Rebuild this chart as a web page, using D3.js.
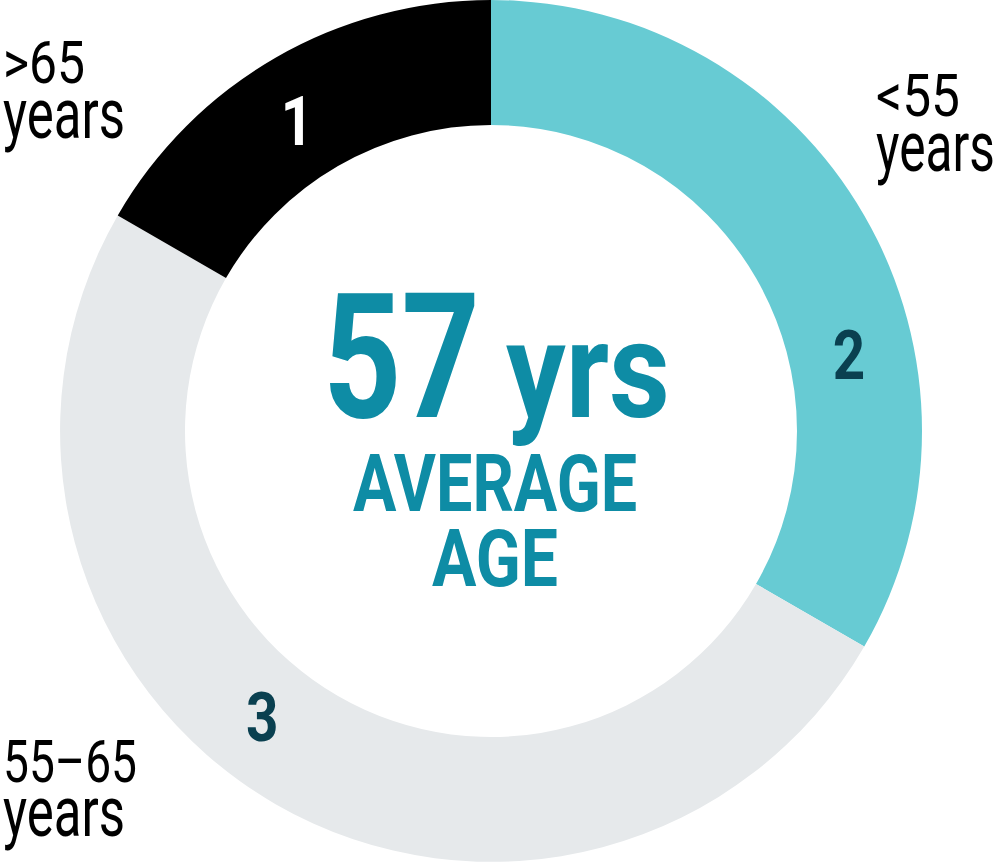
<!DOCTYPE html>
<html>
<head>
<meta charset="utf-8">
<script src="https://cdn.jsdelivr.net/npm/d3@7"></script>
<style>
  html, body { margin: 0; padding: 0; background: #ffffff; }
  svg { display: block; }
</style>
</head>
<body>
<svg id="chart" width="999" height="864"></svg>
<script>
// ---- data ----
const categories = ["<55 years", "55–65 years", ">65 years"];
const values = [2, 3, 1];
const segmentColors = ["#67CBD3", "#E6E9EB", "#000000"];
const numberColors = ["#0A4050", "#0A4050", "#FFFFFF"];
const centerValue = "57";
const centerUnit = "yrs";
const centerCaption = ["AVERAGE", "AGE"];

// ---- layout ----
const cx = 491, cy = 431;
const outerR = 431, innerR = 306;
const labelR = 366;
const labelAngleDeg = [78, 218.7, 328];   // where the value numbers sit
const svg = d3.select("#chart");
const g = svg.append("g").attr("transform", `translate(${cx},${cy})`);

const pie = d3.pie().sort(null).value(d => d.v).startAngle(0).endAngle(2 * Math.PI);
const data = categories.map((c, i) => ({ c, v: values[i], i }));
const arcs = pie(data);
const arc = d3.arc().innerRadius(innerR).outerRadius(outerR);

g.selectAll("path.seg").data(arcs).enter().append("path")
  .attr("class", "seg")
  .attr("d", arc)
  .attr("fill", d => segmentColors[d.data.i]);

// value numbers in the ring
const font = "Roboto, 'Liberation Sans', sans-serif";
arcs.forEach((a, i) => {
  const ang = labelAngleDeg[i] * Math.PI / 180;
  const x = labelR * Math.sin(ang), y = -labelR * Math.cos(ang);
  g.append("text")
    .attr("transform", `translate(${x},${y + 24}) scale(0.82,1)`)
    .attr("text-anchor", "middle")
    .attr("font-family", font)
    .attr("font-weight", 700)
    .attr("font-size", 69)
    .attr("fill", numberColors[i])
    .text(a.data.v);
});

// center text
const teal = "#0E8CA5";
function span(parent, txt, x, baseline, width, size) {
  parent.append("tspan")
    .attr("x", x).attr("y", baseline)
    .attr("font-size", size)
    .attr("textLength", width)
    .attr("lengthAdjust", "spacingAndGlyphs")
    .text(txt);
}
const center = svg.append("text")
  .attr("font-family", font).attr("font-weight", 700).attr("fill", teal);
span(center, centerValue, 323, 417, 157, 174);
span(center, centerUnit, 506, 417, 164, 136);
const caption = svg.append("text")
  .attr("font-family", font).attr("font-weight", 700).attr("fill", teal);
span(caption, centerCaption[0], 353, 511, 284, 80);
span(caption, centerCaption[1], 432, 586, 126, 80);

// category labels outside the ring
const labelLines = [
  { lines: ["<55", "years"], x: 876, base: [116, 171], w: [84, 119] },
  { lines: ["55–65", "years"], x: 3, base: [782, 836], w: [134, 122] },
  { lines: [">65", "years"], x: 3, base: [83, 138], w: [82, 122] }
];
labelLines.forEach(L => {
  const t = svg.append("text")
    .attr("font-family", font).attr("font-weight", 400).attr("fill", "#000");
  span(t, L.lines[0], L.x, L.base[0], L.w[0], 60);
  span(t, L.lines[1], L.x, L.base[1], L.w[1], 70);
});
</script>
</body>
</html>
